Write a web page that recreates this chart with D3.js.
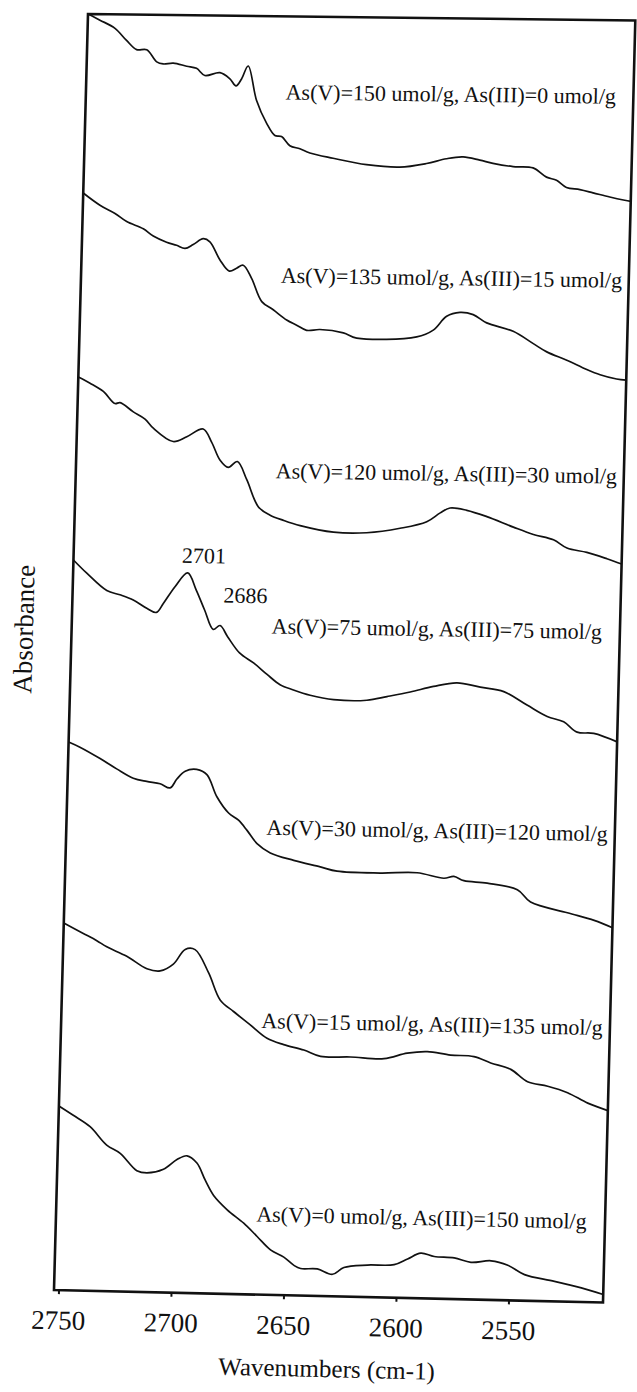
<!DOCTYPE html>
<html>
<head>
<meta charset="utf-8">
<script src="https://cdn.jsdelivr.net/npm/d3@7"></script>
<style>
  html, body { margin: 0; padding: 0; background: #fff; }
  svg { display: block; }
</style>
</head>
<body>
<svg id="chart" width="637" height="1392"></svg>
<script>
// ---- Spectra: [wavenumber (cm-1), absorbance (stacked, arbitrary units)] ----
const specV150 = [[2752,1.276],[2746.6,1.270],[2739.8,1.262],[2734.5,1.250],[2729.9,1.241],[2725.4,1.241],[2720.8,1.229],[2717.9,1.227],[2713.4,1.228],[2707.4,1.225],[2703.0,1.223],[2699.2,1.216],[2692.5,1.219],[2688.0,1.213],[2685.2,1.206],[2682.8,1.213],[2680.0,1.226],[2675.9,1.192],[2671.1,1.169],[2667.3,1.157],[2664.3,1.156],[2660.5,1.147],[2656.0,1.144],[2651.5,1.140],[2641.1,1.135],[2626.1,1.129],[2611.3,1.127],[2599.4,1.131],[2590.6,1.136],[2583.2,1.138],[2575.7,1.135],[2569.8,1.132],[2560.8,1.129],[2551.9,1.128],[2545.8,1.119],[2541.3,1.116],[2536.8,1.109],[2530.8,1.107],[2524.9,1.104],[2517.4,1.100],[2510.7,1.097],[2508,1.096]];
const specV135 = [[2752,1.097],[2744.4,1.085],[2737.6,1.077],[2732.3,1.069],[2724.8,1.062],[2720.3,1.055],[2714.3,1.049],[2709.8,1.046],[2706.0,1.043],[2702.4,1.047],[2698.0,1.053],[2695.0,1.050],[2690.3,1.032],[2686.0,1.021],[2682.8,1.024],[2679.9,1.027],[2676.0,1.014],[2671.2,0.991],[2666.0,0.983],[2659.9,0.973],[2655.4,0.968],[2650.9,0.963],[2645.0,0.964],[2634.5,0.961],[2628.5,0.956],[2601.8,0.958],[2594.5,0.965],[2588.7,0.979],[2582.8,0.983],[2576.9,0.981],[2570.8,0.973],[2558.9,0.965],[2549.8,0.953],[2543.7,0.945],[2534.7,0.937],[2525.7,0.928],[2519.7,0.923],[2512.3,0.919],[2508,0.918]];
const specV120 = [[2752,0.913],[2746.7,0.907],[2740.7,0.899],[2735.4,0.887],[2733.1,0.888],[2727.1,0.879],[2721.8,0.872],[2718.0,0.863],[2709.0,0.850],[2703.0,0.855],[2695.8,0.863],[2691.9,0.850],[2687.9,0.832],[2684.2,0.825],[2680.2,0.831],[2675.8,0.813],[2670.3,0.786],[2665.0,0.778],[2659.0,0.773],[2651.5,0.768],[2636.6,0.762],[2621.8,0.762],[2607.0,0.767],[2595.2,0.774],[2589.3,0.783],[2585.0,0.788],[2577.5,0.786],[2568.5,0.780],[2556.6,0.770],[2547.6,0.763],[2538.6,0.758],[2532.5,0.750],[2523.6,0.746],[2514.6,0.740],[2508,0.735]];
const specV75 = [[2752,0.730],[2745.9,0.717],[2736.8,0.700],[2730.9,0.696],[2724.9,0.691],[2718.8,0.683],[2714.5,0.679],[2711.5,0.688],[2706.5,0.705],[2701,0.719],[2697,0.702],[2693,0.682],[2689,0.663],[2686,0.667],[2682.5,0.656],[2677,0.640],[2670.5,0.630],[2664.5,0.619],[2658.6,0.609],[2652.6,0.604],[2645.1,0.599],[2634.6,0.595],[2619.8,0.595],[2610.9,0.599],[2600.6,0.604],[2590.3,0.610],[2579.9,0.614],[2569.5,0.610],[2559.0,0.606],[2548.5,0.593],[2539.4,0.582],[2532.0,0.577],[2525.9,0.567],[2518.5,0.566],[2508,0.558]];
const specV30 = [[2752,0.548],[2746.9,0.543],[2737.8,0.532],[2730.3,0.522],[2722.8,0.513],[2716.8,0.510],[2710.8,0.508],[2706.3,0.504],[2703.4,0.513],[2699.8,0.521],[2694.7,0.523],[2690.1,0.518],[2685.4,0.496],[2680.0,0.480],[2675.5,0.473],[2671.6,0.463],[2667.0,0.450],[2661.0,0.441],[2650.5,0.434],[2638.6,0.428],[2631.1,0.424],[2611.8,0.423],[2595.5,0.424],[2583.5,0.419],[2579.1,0.421],[2574.6,0.417],[2564.2,0.415],[2550.7,0.409],[2544.7,0.397],[2528.2,0.387],[2516.2,0.380],[2508,0.373]];
const specV15 = [[2752,0.367],[2743.2,0.357],[2737.1,0.350],[2732.6,0.344],[2723.6,0.335],[2714.5,0.323],[2708.6,0.321],[2702.8,0.328],[2697.7,0.343],[2693.3,0.343],[2687.0,0.320],[2681.5,0.293],[2675.5,0.282],[2667.9,0.269],[2660.3,0.256],[2652.8,0.250],[2643.8,0.245],[2636.3,0.239],[2623.0,0.239],[2608.1,0.238],[2597.8,0.244],[2588.9,0.246],[2578.5,0.243],[2568.1,0.242],[2560.6,0.236],[2551.6,0.230],[2544.0,0.218],[2535.0,0.214],[2526.1,0.208],[2517.0,0.198],[2508,0.191]];
const specV0 = [[2752,0.184],[2745.5,0.175],[2737.9,0.164],[2730.3,0.146],[2724.2,0.138],[2716.6,0.121],[2712.1,0.119],[2704.8,0.123],[2698.9,0.133],[2694.5,0.137],[2690.0,0.130],[2686.1,0.113],[2682.2,0.098],[2676.0,0.084],[2668.5,0.071],[2662.4,0.058],[2656.3,0.045],[2650.3,0.038],[2645.7,0.030],[2642.7,0.027],[2635.3,0.027],[2628.5,0.022],[2623.5,0.029],[2613.1,0.032],[2601.2,0.033],[2595.3,0.039],[2589.5,0.045],[2583.5,0.042],[2574.6,0.041],[2567.1,0.037],[2558.2,0.039],[2550.7,0.035],[2543.2,0.026],[2529.8,0.020],[2517.8,0.014],[2508,0.008]];

const seriesLabels = [
  "As(V)=150 umol/g, As(III)=0 umol/g",
  "As(V)=135 umol/g, As(III)=15 umol/g",
  "As(V)=120 umol/g, As(III)=30 umol/g",
  "As(V)=75 umol/g, As(III)=75 umol/g",
  "As(V)=30 umol/g, As(III)=120 umol/g",
  "As(V)=15 umol/g, As(III)=135 umol/g",
  "As(V)=0 umol/g, As(III)=150 umol/g"
];
const tickValues = [2750, 2700, 2650, 2600, 2550];
const peakLabels = ["2701", "2686"];

// ---- Layout ----
const FONT = "'Liberation Serif', 'DejaVu Serif', serif";
const series = [specV150, specV135, specV120, specV75, specV30, specV15, specV0];
const labelWave = 2663;
const labelLevels = [1.193, 1.010, 0.815, 0.660, 0.459, 0.266, 0.073];
const peakLabelPos = [[2703.8, 0.729], [2684.8, 0.690]];

// Frame corners on the page (the printed plot sits slightly askew)
const TL = [88, 14], TR = [635.3, 20.5], BL = [54, 1290], BR = [603, 1302.5];

// Bilinear map from unit plot coords (s across, t down) to page coords
function warp(s, t) {
  const top = [TL[0] + s * (TR[0] - TL[0]), TL[1] + s * (TR[1] - TL[1])];
  const bot = [BL[0] + s * (BR[0] - BL[0]), BL[1] + s * (BR[1] - BL[1])];
  return [top[0] + t * (bot[0] - top[0]), top[1] + t * (bot[1] - top[1])];
}
// Local affine frame at (s, t) for placing text along the skewed axes
function frameAt(s, t) {
  const du = [(1 - t) * (TR[0] - TL[0]) + t * (BR[0] - BL[0]), (1 - t) * (TR[1] - TL[1]) + t * (BR[1] - BL[1])];
  const dv = [(1 - s) * (BL[0] - TL[0]) + s * (BR[0] - TR[0]), (1 - s) * (BL[1] - TL[1]) + s * (BR[1] - TR[1])];
  const lu = Math.hypot(du[0], du[1]), lv = Math.hypot(dv[0], dv[1]);
  const p = warp(s, t);
  return `matrix(${du[0] / lu},${du[1] / lu},${dv[0] / lv},${dv[1] / lv},${p[0]},${p[1]})`;
}

const x = d3.scaleLinear().domain([2752, 2508]).range([0, 1]);
const y = d3.scaleLinear().domain([0, 1.276]).range([1, 0]);

const svg = d3.select("#chart");
svg.append("rect").attr("width", 637).attr("height", 1392).attr("fill", "#fff");

const line = d3.line()
  .x(d => warp(x(d[0]), y(d[1]))[0])
  .y(d => warp(x(d[0]), y(d[1]))[1])
  .curve(d3.curveCatmullRom.alpha(0.5));

svg.append("g").selectAll("path")
  .data(series)
  .join("path")
  .attr("d", line)
  .attr("fill", "none")
  .attr("stroke", "#111")
  .attr("stroke-width", 1.7)
  .attr("stroke-linejoin", "round");

// Plot frame
const corners = [[0, 0], [1, 0], [1, 1], [0, 1]].map(c => warp(c[0], c[1]));
svg.append("path")
  .attr("d", "M" + corners.map(p => p.join(",")).join("L") + "Z")
  .attr("fill", "none")
  .attr("stroke", "#111")
  .attr("stroke-width", 2.6);

// Bottom axis
const axisLen = Math.hypot(BR[0] - BL[0], BR[1] - BL[1]);
const xAxisScale = x.copy().range([0, axisLen]);
const axisG = svg.append("g")
  .attr("transform", frameAt(0, 1))
  .call(d3.axisBottom(xAxisScale).tickValues(tickValues).tickFormat(d3.format("d"))
    .tickSize(4).tickPadding(16).tickSizeOuter(0));
axisG.select(".domain").remove();
axisG.attr("font-family", FONT).attr("font-size", 27);
axisG.selectAll(".tick line").attr("stroke", "#111").attr("stroke-width", 2);
axisG.selectAll(".tick text").attr("fill", "#111").style("font-family", FONT);

// Axis titles
svg.append("text")
  .attr("transform", frameAt(0.5, 1) + " translate(0,81)")
  .attr("text-anchor", "middle")
  .attr("font-size", 25)
  .style("font-family", FONT)
  .attr("fill", "#111")
  .text("Wavenumbers (cm-1)");

svg.append("text")
  .attr("transform", frameAt(0, 0.4828) + " translate(-38.6,0) rotate(-90)")
  .attr("text-anchor", "middle")
  .attr("font-size", 27)
  .style("font-family", FONT)
  .attr("fill", "#111")
  .text("Absorbance");

// Series labels
svg.append("g").selectAll("text")
  .data(seriesLabels)
  .join("text")
  .attr("transform", (d, i) => frameAt(x(labelWave), y(labelLevels[i])))
  .attr("font-size", 22)
  .style("font-family", FONT)
  .attr("fill", "#111")
  .text(d => d);

// Band position labels
svg.append("g").selectAll("text")
  .data(peakLabels)
  .join("text")
  .attr("transform", (d, i) => frameAt(x(peakLabelPos[i][0]), y(peakLabelPos[i][1])))
  .attr("font-size", 22)
  .style("font-family", FONT)
  .attr("fill", "#111")
  .text(d => d);
</script>
</body>
</html>
